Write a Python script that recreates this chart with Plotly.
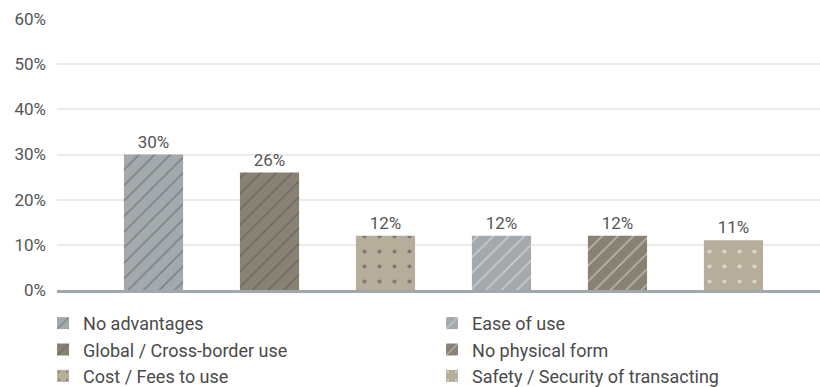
import plotly.graph_objects as go

categories = ["No advantages", "Global / Cross-border use", "Cost / Fees to use",
              "Ease of use", "No physical form", "Safety / Security of transacting"]
values = [30, 26, 12, 12, 12, 11]
labels = ["30%", "26%", "12%", "12%", "12%", "11%"]
legend_order = [0, 3, 1, 4, 2, 5]
y_ticks = [0, 10, 20, 30, 40, 50, 60]
y_tick_text = ["0%", "10%", "20%", "30%", "40%", "50%", "60%"]

GRAY = "#a3a9ac"
TAUPE = "#888174"
BEIGE = "#b6ad9a"
DARK = "#44494d"
styles = {
    "No advantages": (GRAY, "/", DARK),
    "Global / Cross-border use": (TAUPE, "/", DARK),
    "Cost / Fees to use": (BEIGE, ".", DARK),
    "Ease of use": (GRAY, "/", "#ffffff"),
    "No physical form": (TAUPE, "/", "#ffffff"),
    "Safety / Security of transacting": (BEIGE, ".", "#ffffff"),
}

fig = go.Figure()
for i in legend_order:
    cat = categories[i]
    bg, shape, fg = styles[cat]
    fig.add_trace(go.Bar(
        x=[cat], y=[values[i]], name=cat, width=0.51,
        text=[labels[i]], textposition="outside",
        textfont=dict(size=17, color="#555555"),
        cliponaxis=False,
        marker=dict(color=bg, line=dict(width=0),
                    pattern=dict(shape=shape, fgcolor=fg, bgcolor=bg,
                                 size=11 if shape == "/" else 15,
                                 solidity=0.12 if shape == "/" else 0.06,
                                 fillmode="overlay")),
    ))

fig.update_layout(
    width=820, height=387,
    margin=dict(l=57, r=0, t=19, b=97, autoexpand=False),
    paper_bgcolor="white", plot_bgcolor="white",
    barmode="overlay",
    font=dict(family="Roboto", size=17, color="#555555"),
    showlegend=True,
    legend=dict(orientation="h", xref="paper", yref="paper",
                x=-0.0183, y=-0.055, xanchor="left", yanchor="top",
                entrywidth=344, entrywidthmode="pixels",
                font=dict(size=18, color="#4a4a4a"),
                itemclick=False, traceorder="normal"),
    xaxis=dict(categoryorder="array", categoryarray=categories,
               range=[-0.832, 5.746], showticklabels=False, showgrid=False,
               showline=True, linecolor="#a0a8ab", linewidth=3, zeroline=False,
               fixedrange=True),
    yaxis=dict(range=[0, 60], tickvals=y_ticks, ticktext=y_tick_text,
               showgrid=True, gridcolor="#ebebeb", gridwidth=2,
               zeroline=False, showline=False, ticks="",
               ticklabelstandoff=10, tickfont=dict(size=17, color="#555555"),
               fixedrange=True),
)

fig.write_html("out.html", config={"displayModeBar": False},
               post_script="document.body.style.margin='0';")
